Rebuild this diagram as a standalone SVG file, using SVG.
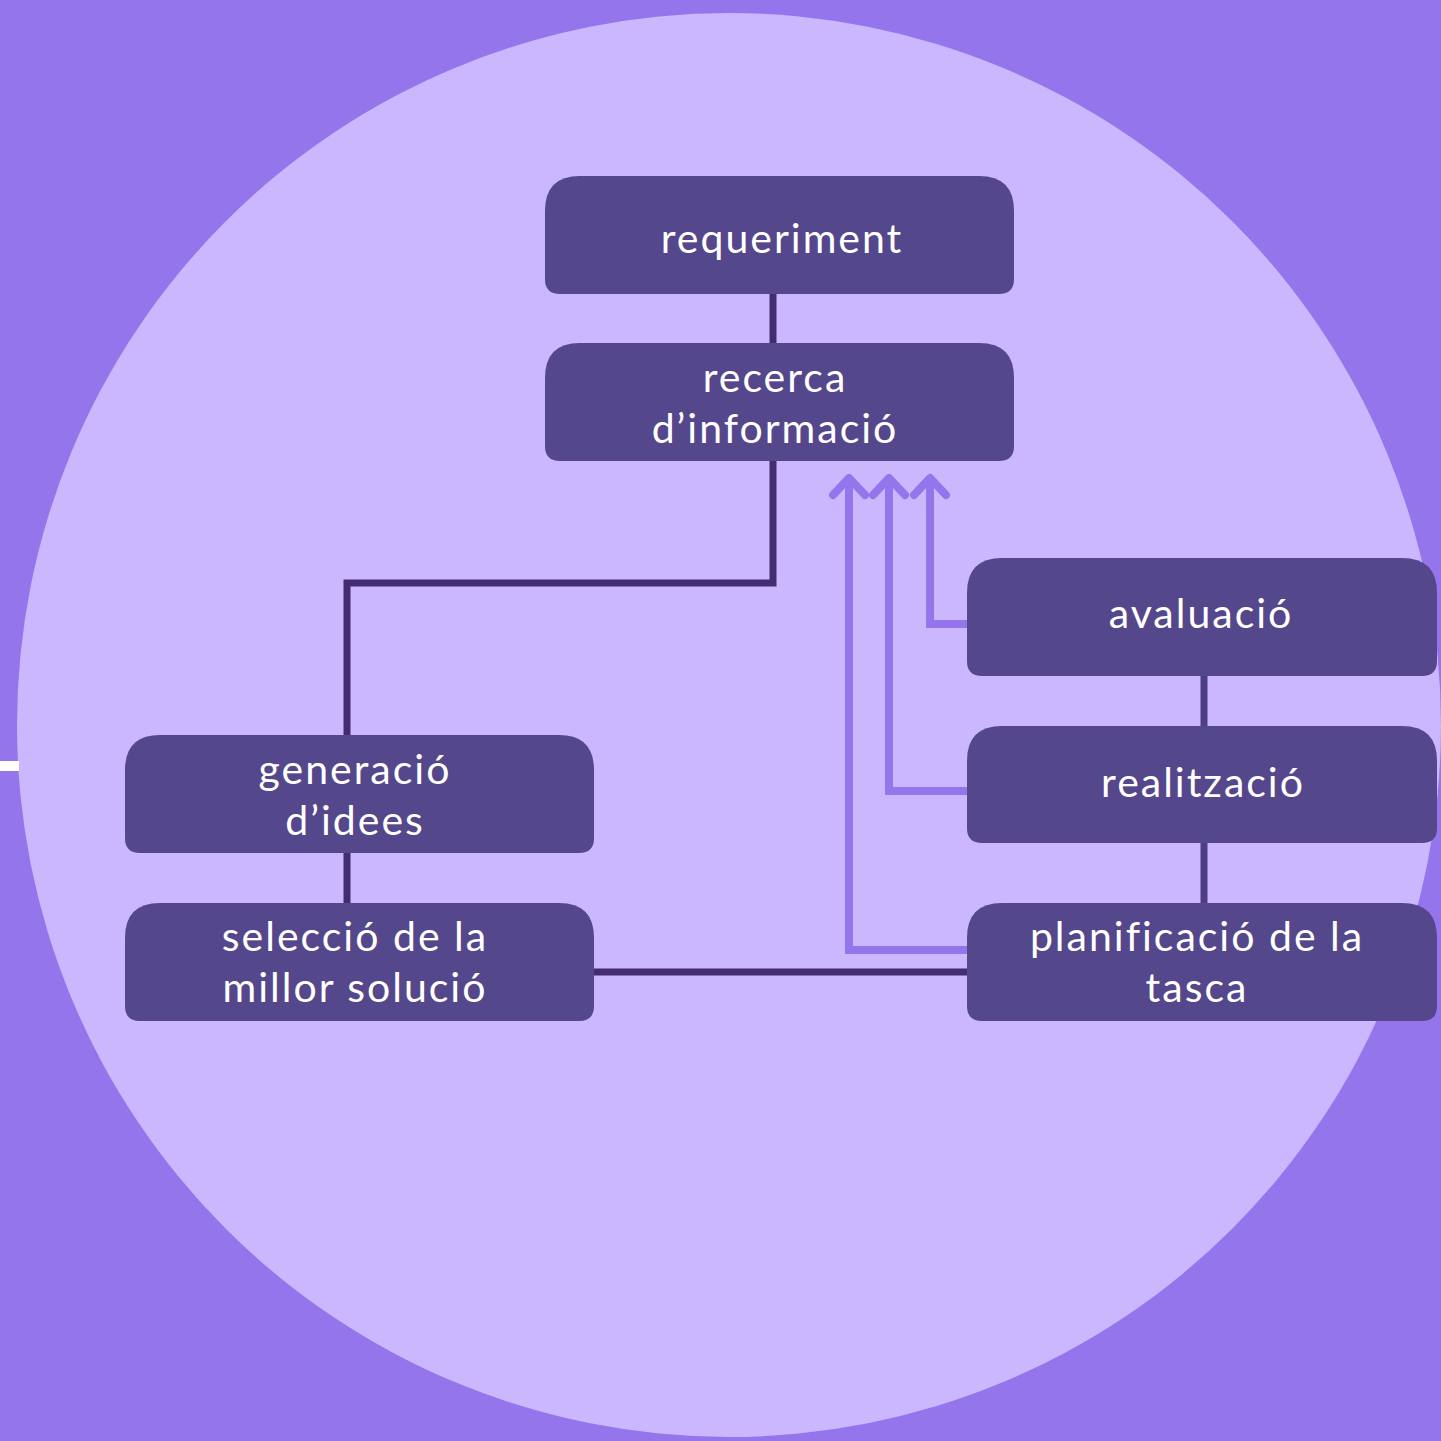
<svg xmlns="http://www.w3.org/2000/svg" width="1441" height="1441" viewBox="0 0 1441 1441">
<defs>
<style>
.box{fill:#55478b}
.t{font-family:Lato,"Open Sans","Liberation Sans",sans-serif;font-size:41px;letter-spacing:2px;fill:#ffffff;text-anchor:middle}
.dk{fill:none;stroke:#432c70;stroke-width:7}
.md{fill:none;stroke:#4e3f84;stroke-width:7}
.lt{fill:none;stroke:#9475ec;stroke-width:8}
.ah{fill:none;stroke:#9475ec;stroke-width:8;stroke-linecap:round;stroke-linejoin:round}
</style>
</defs>
<rect x="0" y="0" width="1441" height="1441" fill="#9475ec"/>
<circle cx="729" cy="725" r="712" fill="#cab7fe"/>
<rect x="0" y="761" width="19" height="10" fill="#ffffff"/>
<g id="connectors">
<line class="dk" x1="773" y1="293" x2="773" y2="344"/>
<polyline class="dk" points="773,460 773,583 347,583 347,736"/>
<line class="dk" x1="347" y1="852" x2="347" y2="904"/>
<line class="dk" x1="593" y1="972" x2="969" y2="972"/>
<line class="md" x1="1204" y1="675" x2="1204" y2="727"/>
<line class="md" x1="1204" y1="842" x2="1204" y2="904"/>
<polyline class="lt" points="968,624 930,624 930,478"/>
<polyline class="lt" points="968,791 889,791 889,478"/>
<polyline class="lt" points="968,950 849,950 849,478"/>
<polyline class="ah" points="914,495 930,478 946,495"/>
<polyline class="ah" points="873,495 889,478 905,495"/>
<polyline class="ah" points="833,495 849,478 865,495"/>
</g>
<g id="requeriment">
<path class="box" d="M580,176 H979 Q1014,176 1014,211 V279 Q1014,294 999,294 H560 Q545,294 545,279 V211 Q545,176 580,176 Z"/>
<text class="t" x="782" y="253">requeriment</text>
</g>
<g id="recerca">
<path class="box" d="M580,343 H979 Q1014,343 1014,378 V446 Q1014,461 999,461 H560 Q545,461 545,446 V378 Q545,343 580,343 Z"/>
<text class="t" x="775" y="392">recerca</text>
<text class="t" x="775" y="443">d’informació</text>
</g>
<g id="generacio">
<path class="box" d="M160,735 H559 Q594,735 594,770 V838 Q594,853 579,853 H140 Q125,853 125,838 V770 Q125,735 160,735 Z"/>
<text class="t" x="355" y="784">generació</text>
<text class="t" x="355" y="835">d’idees</text>
</g>
<g id="seleccio">
<path class="box" d="M160,903 H559 Q594,903 594,938 V1006 Q594,1021 579,1021 H140 Q125,1021 125,1006 V938 Q125,903 160,903 Z"/>
<text class="t" x="355" y="951">selecció de la</text>
<text class="t" x="355" y="1002">millor solució</text>
</g>
<g id="avaluacio">
<path class="box" d="M1002,558 H1402 Q1437,558 1437,593 V661 Q1437,676 1422,676 H982 Q967,676 967,661 V593 Q967,558 1002,558 Z"/>
<text class="t" x="1201" y="628">avaluació</text>
</g>
<g id="realitzacio">
<path class="box" d="M1002,726 H1402 Q1437,726 1437,761 V828 Q1437,843 1422,843 H982 Q967,843 967,828 V761 Q967,726 1002,726 Z"/>
<text class="t" x="1203" y="797">realització</text>
</g>
<g id="planificacio">
<path class="box" d="M1002,903 H1402 Q1437,903 1437,938 V1006 Q1437,1021 1422,1021 H982 Q967,1021 967,1006 V938 Q967,903 1002,903 Z"/>
<text class="t" x="1197" y="951">planificació de la</text>
<text class="t" x="1197" y="1002">tasca</text>
</g>
</svg>
